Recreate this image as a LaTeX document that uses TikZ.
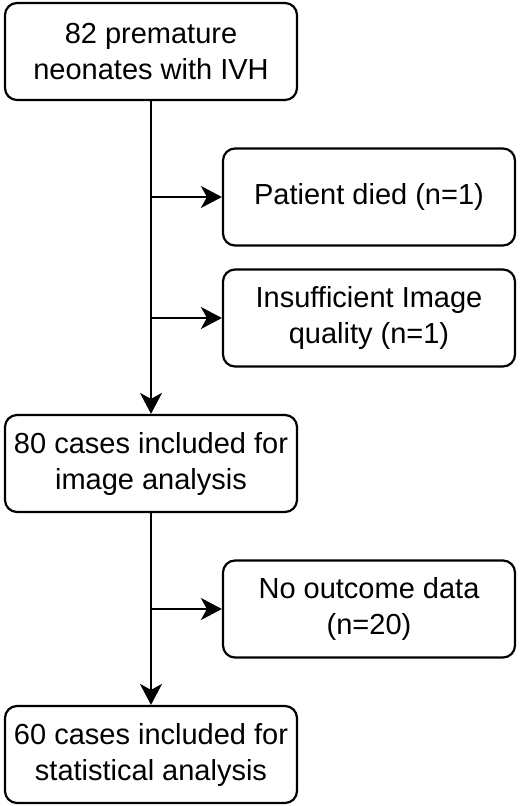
\documentclass[tikz,border=0pt]{standalone}
\usepackage{fontspec}
\setmainfont{Liberation Sans}
\usetikzlibrary{arrows.meta}
\begin{document}
\begin{tikzpicture}[x=1pt,y=-1pt,
  box/.style={draw=black,line width=2.2pt,rounded corners=12pt,minimum width=292pt,minimum height=97pt,
    align=center,inner sep=0pt,font=\fontsize{29pt}{36pt}\selectfont},
  conn/.style={line width=2.2pt,draw=black},
  arr/.style={conn,-{Stealth[length=21pt,width=22pt,inset=6pt]}}]
\useasboundingbox (0,0) rectangle (520,806);
\node[box] (b1) at (151,51.5) {82 premature\\neonates with IVH};
\node[box] (b2) at (369,197) {Patient died (n=1)};
\node[box] (b3) at (369,318) {Insufficient Image\\quality (n=1)};
\node[box] (b4) at (151,463.5) {80 cases included for\\image analysis};
\node[box] (b5) at (369,609) {No outcome data\\(n=20)};
\node[box] (b6) at (151,754.5) {60 cases included for\\statistical analysis};
\coordinate (j2) at (b1.south |- b2.west);
\coordinate (j3) at (b1.south |- b3.west);
\coordinate (j5) at (b4.south |- b5.west);
\draw[arr] (b1.south) -- (b4.north);
\draw[arr] (j2) -- (b2.west);
\draw[arr] (j3) -- (b3.west);
\draw[arr] (b4.south) -- (b6.north);
\draw[arr] (j5) -- (b5.west);
\end{tikzpicture}
\end{document}
